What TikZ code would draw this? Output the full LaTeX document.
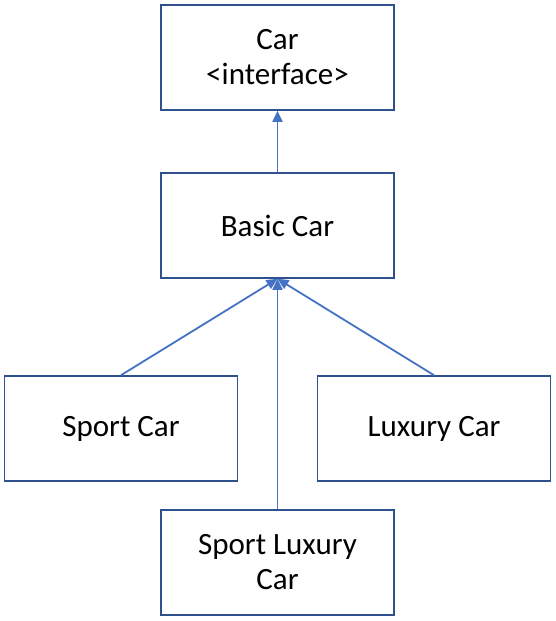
\documentclass[tikz,border=0pt]{standalone}
\usepackage{fontspec}
\setmainfont{Carlito}
\usetikzlibrary{arrows.meta}
\definecolor{boxc}{HTML}{2F528F}
\definecolor{linec}{HTML}{4472C4}
\begin{document}
\begin{tikzpicture}[x=1pt,y=-1pt,
  box/.style={draw=boxc,line width=1.6pt,minimum width=233pt,minimum height=105pt,inner sep=0pt,align=center,font=\fontsize{31}{35}\selectfont},
  conn/.style={draw=linec,line width=1.8pt,-{Triangle[length=11pt,width=10pt]}}]
\useasboundingbox (0,0) rectangle (555,621);
\node[box] (car) at (277.5,57.5) {Car\\<interface>};
\node[box] (basic) at (277.5,225.5) {Basic Car};
\node[box] (sport) at (121,428.5) {Sport Car};
\node[box] (lux) at (434,428.5) {Luxury Car};
\node[box] (slux) at (277.5,562.5) {Sport Luxury\\Car};
\draw[conn] (basic.north) -- (car.south);
\draw[conn] (sport.north) -- (basic.south);
\draw[conn] (lux.north) -- (basic.south);
\draw[conn] (slux.north) -- (basic.south);
\end{tikzpicture}
\end{document}
